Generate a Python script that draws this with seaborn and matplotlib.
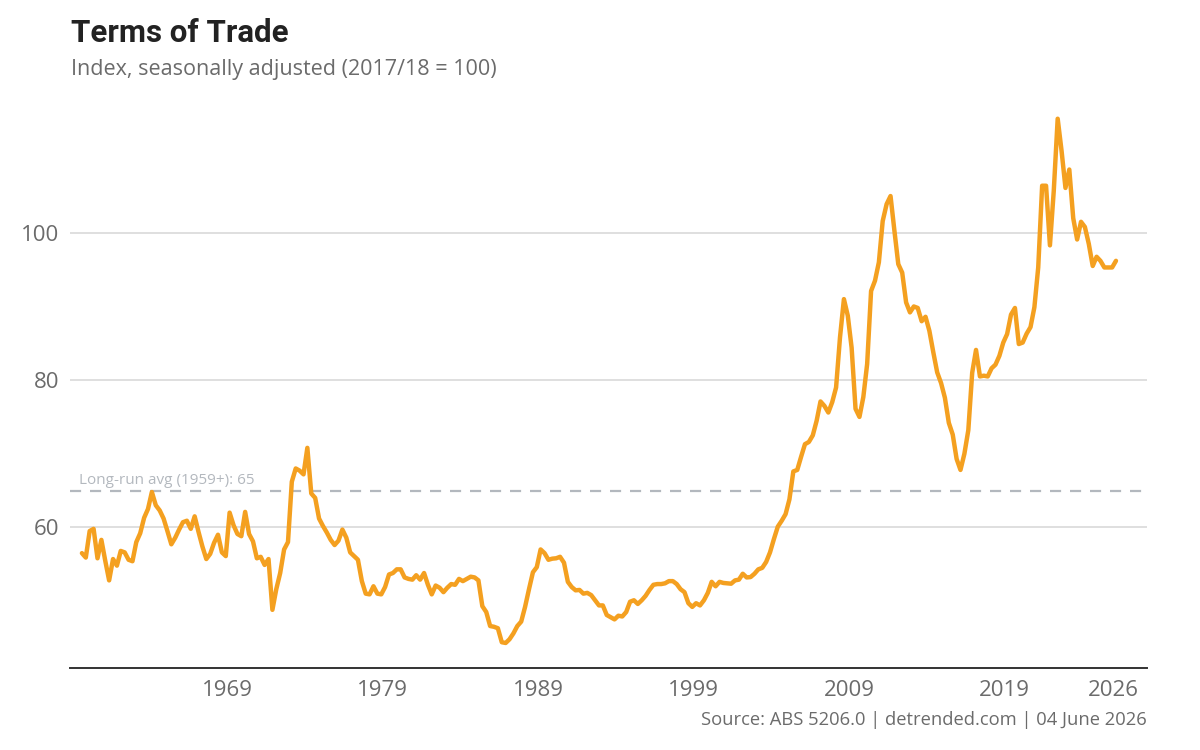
import matplotlib
matplotlib.use("Agg")
import matplotlib.pyplot as plt
import seaborn as sns
import pandas as pd

# ---- data (quarterly, Sep 1959 .. Mar 2026) ----
start_date = "1959-09-01"
tot_values = [
    56.5, 55.9, 59.5, 59.8, 55.8, 58.3, 55.5, 52.8, 55.7, 54.8,
    56.8, 56.6, 55.6, 55.4, 58.0, 59.2, 61.3, 62.5, 64.8, 63.0,
    62.3, 61.2, 59.5, 57.7, 58.6, 59.7, 60.7, 60.9, 59.8, 61.5,
    59.4, 57.4, 55.7, 56.4, 57.9, 59.0, 56.6, 56.1, 62.0, 60.3,
    59.1, 58.8, 62.1, 59.1, 58.1, 55.8, 56.0, 54.9, 55.7, 48.8,
    51.6, 53.8, 57.0, 58.0, 66.2, 68.0, 67.7, 67.2, 70.8, 64.6,
    64.0, 61.2, 60.2, 59.3, 58.3, 57.6, 58.2, 59.7, 58.6, 56.6,
    56.1, 55.6, 52.7, 51.0, 50.9, 52.0, 51.0, 50.9, 51.9, 53.6,
    53.8, 54.3, 54.3, 53.2, 53.0, 52.9, 53.5, 52.9, 53.8, 52.2,
    50.9, 52.1, 51.8, 51.2, 51.8, 52.3, 52.2, 53.0, 52.7, 53.0,
    53.3, 53.2, 52.8, 49.3, 48.5, 46.6, 46.5, 46.3, 44.4, 44.3,
    44.8, 45.6, 46.6, 47.2, 49.2, 51.6, 53.9, 54.6, 57.0, 56.5,
    55.6, 55.75, 55.8, 56.0, 55.2, 52.6, 51.9, 51.45, 51.5, 51.0,
    51.1, 50.8, 50.1, 49.4, 49.4, 48.1, 47.8, 47.5, 48.0, 47.9,
    48.5, 49.9, 50.1, 49.6, 50.1, 50.7, 51.5, 52.2, 52.3, 52.3,
    52.4, 52.7, 52.7, 52.3, 51.6, 51.2, 49.7, 49.2, 49.7, 49.4,
    50.1, 51.1, 52.6, 52.0, 52.6, 52.45, 52.4, 52.35, 52.8, 52.9,
    53.7, 53.2, 53.25, 53.7, 54.3, 54.5, 55.3, 56.6, 58.4, 60.1,
    60.9, 61.8, 63.8, 67.6, 67.8, 69.6, 71.3, 71.6, 72.5, 74.5,
    77.1, 76.5, 75.6, 77.0, 79.0, 85.8, 91.0, 88.75, 84.4, 76.1,
    75.0, 77.7, 82.2, 92.1, 93.5, 96.0, 101.6, 103.9, 105.0, 100.3,
    95.75, 94.6, 90.55, 89.2, 90.0, 89.8, 88.0, 88.6, 86.7, 83.8,
    81.05, 79.6, 77.6, 74.2, 72.6, 69.3, 67.8, 70.0, 73.2, 81.0,
    84.1, 80.5, 80.6, 80.5, 81.6, 82.1, 83.3, 85.1, 86.25, 88.9,
    89.8, 84.9, 85.1, 86.3, 87.2, 89.9, 95.3, 106.4, 106.4, 98.3,
    105.7, 115.5, 111.1, 106.1, 108.6, 102.0, 99.1, 101.5, 100.8, 98.5,
    95.5, 96.75, 96.2, 95.3, 95.3, 95.3, 96.2,
]
long_run_avg = 65
avg_label = "Long-run avg (1959+): 65"
y_ticks = [60, 80, 100]
x_tick_years = [1969, 1979, 1989, 1999, 2009, 2019, 2026]

title = "Terms of Trade"
subtitle = "Index, seasonally adjusted (2017/18 = 100)"
source = "Source: ABS 5206.0 | detrended.com | 04 June 2026"

# ---- build frame ----
dates = pd.date_range(start=start_date, periods=len(tot_values), freq="3MS")
df = pd.DataFrame({"date": dates, "value": tot_values})

sns.set_theme(style="white")
plt.rcParams["font.family"] = ["Open Sans", "DejaVu Sans"]

ORANGE = "#F4A020"
GREY_TXT = "#6b6b6b"
DASH = "#b3b8be"

fig = plt.figure(figsize=(12, 7.5), dpi=100)
ax = fig.add_axes([70 / 1200, 1 - 668 / 750, (1147 - 70) / 1200, (668 - 104) / 750])

for yv in y_ticks:
    ax.axhline(yv, color="#dcdcdc", lw=1.3, zorder=0)

ax.axhline(long_run_avg, color=DASH, lw=1.6, dashes=(5, 4), zorder=1)

sns.lineplot(data=df, x="date", y="value", ax=ax, color=ORANGE, lw=3.2,
             zorder=3, legend=False)

ax.text(pd.Timestamp("1959-07-01"), long_run_avg + 0.3, avg_label,
        color=DASH, fontsize=11, ha="left", va="bottom")

ax.set_ylim(40.9, 117.5)
ax.set_xlim(pd.Timestamp("1958-11-25"), pd.Timestamp("2028-02-28"))
ax.set_yticks(y_ticks)
ax.set_yticklabels([str(v) for v in y_ticks])
ax.set_xticks([pd.Timestamp(f"{y}-01-01") for y in x_tick_years])
ax.set_xticklabels([str(y) for y in x_tick_years])
ax.tick_params(axis="both", length=0, labelsize=16, labelcolor=GREY_TXT)
ax.tick_params(axis="x", pad=9)
ax.tick_params(axis="y", pad=8)
ax.set_xlabel("")
ax.set_ylabel("")

for s in ["top", "right", "left"]:
    ax.spines[s].set_visible(False)
ax.spines["bottom"].set_color("#333333")
ax.spines["bottom"].set_linewidth(1.4)

fig.text(71 / 1200, 1 - 42.5 / 750, title, fontsize=22.5, fontweight="bold",
         family=["Roboto", "DejaVu Sans"],
         color="#222222", ha="left", va="baseline")
fig.text(71 / 1200, 1 - 75 / 750, subtitle, fontsize=15.5, color=GREY_TXT,
         ha="left", va="baseline")
fig.text(1147 / 1200, 1 - 725 / 750, source, fontsize=13.2, color=GREY_TXT,
         ha="right", va="baseline")

fig.savefig("out.png", dpi=100, facecolor="white")
